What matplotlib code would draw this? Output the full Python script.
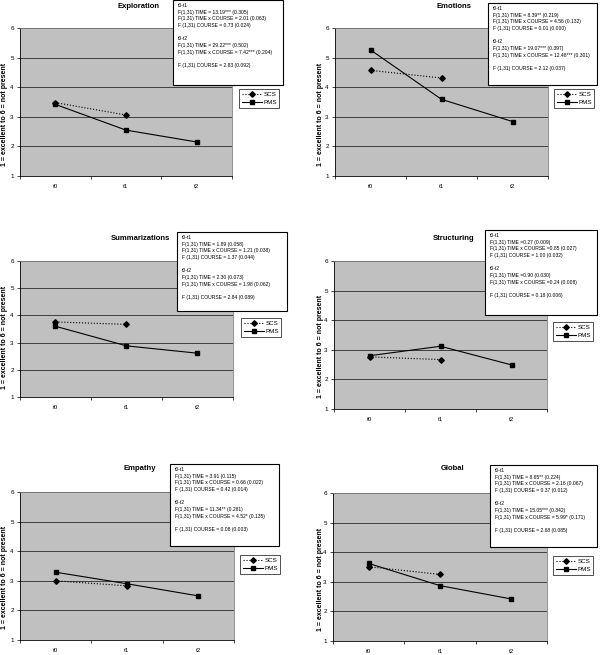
import matplotlib
matplotlib.use('Agg')
import matplotlib.pyplot as plt

plt.rcParams['font.family'] = ['Liberation Sans', 'DejaVu Sans']

# dados
time_points = ['t0', 't1', 't2']
titles = ['Exploration', 'Emotions', 'Summarizations', 'Structuring', 'Empathy', 'Global']
scs_values = [
    [3.48, 3.06],
    [4.57, 4.31],
    [3.76, 3.67],
    [2.76, 2.67],
    [3.00, 2.83],
    [3.51, 3.25],
]
pms_values = [
    [3.42, 2.55, 2.15],
    [5.26, 3.59, 2.84],
    [3.60, 2.88, 2.61],
    [2.80, 3.12, 2.49],
    [3.29, 2.90, 2.49],
    [3.62, 2.87, 2.42],
]
stats = [
    ['F(1,31) TIME = 13.19*** (0.305)', 'F(1,31) TIME x COURSE = 2.01 (0.063)', 'F (1,31) COURSE = 0.73 (0.024)',
     'F(1,31) TIME = 29.22*** (0.502)', 'F(1,31) TIME x COURSE = 7.42*** (0.204)', 'F (1,31) COURSE = 2.83 (0.092)'],
    ['F(1,31) TIME = 8.39** (0.219)', 'F(1,31) TIME x COURSE = 4.56 (0.132)', 'F (1,31) COURSE = 0.01 (0.000)',
     'F(1,31) TIME = 19.07*** (0.397)', 'F(1,31) TIME x COURSE = 12.48*** (0.301)', 'F (1,31) COURSE = 2.12 (0.037)'],
    ['F(1,31) TIME = 1.89 (0.058)', 'F(1,31) TIME x COURSE = 1.21 (0.038)', 'F (1,31) COURSE = 1.37 (0.044)',
     'F(1,31) TIME = 2.30 (0.073)', 'F(1,31) TIME x COURSE = 1.98 (0.062)', 'F (1,31) COURSE = 2.84 (0.089)'],
    ['F(1,31) TIME =0.27 (0.009)', 'F(1,31) TIME x COURSE =0.85 (0.027)', 'F (1,31) COURSE = 1.00 (0.032)',
     'F(1,31) TIME =0.90 (0.030)', 'F(1,31) TIME x COURSE =0.24 (0.008)', 'F (1,31) COURSE = 0.18 (0.006)'],
    ['F(1,31) TIME = 3.91 (0.115)', 'F(1,31) TIME x COURSE = 0.66 (0.022)', 'F (1,31) COURSE = 0.42 (0.014)',
     'F(1,31) TIME = 11.34** (0.281)', 'F(1,31) TIME x COURSE = 4.52* (0.135)', 'F (1,31) COURSE = 0.08 (0.003)'],
    ['F(1,31) TIME = 8.65** (0.224)', 'F(1,31) TIME x COURSE = 2.16 (0.067)', 'F (1,31) COURSE = 0.37 (0.012)',
     'F(1,31) TIME = 15.05*** (0.342)', 'F(1,31) TIME x COURSE = 5.99* (0.171)', 'F (1,31) COURSE = 2.68 (0.085)'],
]

# posicoes em pixels: area do grafico, titulo, caixa de texto, legenda, rotulo y
plot_px = [(20, 28, 232, 176), (335, 28, 548, 176), (20, 261, 233, 397),
           (334, 261, 547, 409), (20, 492, 234, 640), (333, 493, 547, 641)]
title_px = [(139, 6), (454, 6), (140, 238), (454, 238), (140, 468), (453, 469)]
box_px = [(173, 0, 283, 85), (488, 3, 597, 85), (177, 232, 287, 311),
          (485, 230, 597, 315), (170, 464, 279, 546), (490, 465, 597, 547)]
legend_px = [(239, 89), (554, 89), (241, 318), (553, 322), (240, 555), (553, 556)]
ylabel_px = [(5, 114), (320, 114), (5, 337), (320, 346), (5, 577), (320, 579)]

W, H = 600, 655
fig = plt.figure(figsize=(W / 100, H / 100), dpi=100)


def fx(x):
    return x / W


def fy(y):
    return 1 - y / H


for i in range(6):
    x0, y0, x1, y1 = plot_px[i]
    ax = fig.add_axes([fx(x0), fy(y1), (x1 - x0) / W, (y1 - y0) / H])
    ax.set_facecolor('#c0c0c0')
    x = list(range(len(time_points)))
    ax.plot(x[:len(scs_values[i])], scs_values[i], color='black', linestyle=':', linewidth=0.8,
            marker='D', markersize=2.8, label='SCS')
    ax.plot(x, pms_values[i], color='black', linestyle='-', linewidth=0.8,
            marker='s', markersize=3, label='PMS')
    ax.set_xlim(-0.5, 2.5)
    ax.set_ylim(1, 6)
    ax.set_yticks([1, 2, 3, 4, 5, 6])
    ax.yaxis.grid(True, color='#404040', linewidth=0.7)
    ax.set_axisbelow(True)
    ax.set_xticks([-0.5, 0.5, 1.5, 2.5])
    ax.set_xticklabels([])
    ax.set_xticks(x, minor=True)
    ax.set_xticklabels(time_points, minor=True)
    ax.tick_params(axis='x', which='minor', length=0, labelsize=4.5, pad=6)
    ax.tick_params(axis='x', which='major', length=2.5, width=0.5, direction='out')
    ax.tick_params(axis='y', length=2.5, width=0.5, labelsize=4.5, pad=2)
    for s in ['top', 'right']:
        ax.spines[s].set_color('#808080')
        ax.spines[s].set_linewidth(0.6)
    for s in ['left', 'bottom']:
        ax.spines[s].set_color('black')
        ax.spines[s].set_linewidth(0.6)

    tx, ty = title_px[i]
    fig.text(fx(tx), fy(ty), titles[i], ha='center', va='center', fontsize=5.5, fontweight='bold')

    lx, ly = ylabel_px[i]
    fig.text(fx(lx), fy(ly), '1 = excellent to 6 = not present', rotation=90,
             ha='center', va='center', fontsize=5, fontweight='bold')

    # caixa com as estatisticas
    bx0, by0, bx1, by1 = box_px[i]
    fig.patches.append(plt.Rectangle((fx(bx0), fy(by1)), (bx1 - bx0) / W, (by1 - by0) / H,
                                     transform=fig.transFigure, facecolor='white',
                                     edgecolor='black', linewidth=0.8, zorder=5))
    s = stats[i]
    txt = '\n'.join(['t0-t1', s[0], s[1], s[2], '', 't0-t2', s[3], s[4], '', s[5]])
    fig.text(fx(bx0 + 5), fy(by0 + 3), txt, ha='left', va='top', fontsize=3.6,
             linespacing=1.42, zorder=6)

    gx, gy = legend_px[i]
    leg = ax.legend(loc='upper left', bbox_to_anchor=(fx(gx), fy(gy)), bbox_transform=fig.transFigure,
                    fontsize=4.5, frameon=True, fancybox=False, borderaxespad=0,
                    handlelength=3.2, handletextpad=0.3, borderpad=0.4, labelspacing=0.5)
    leg.get_frame().set_edgecolor('black')
    leg.get_frame().set_linewidth(0.6)

fig.savefig('out.png', dpi=100)
